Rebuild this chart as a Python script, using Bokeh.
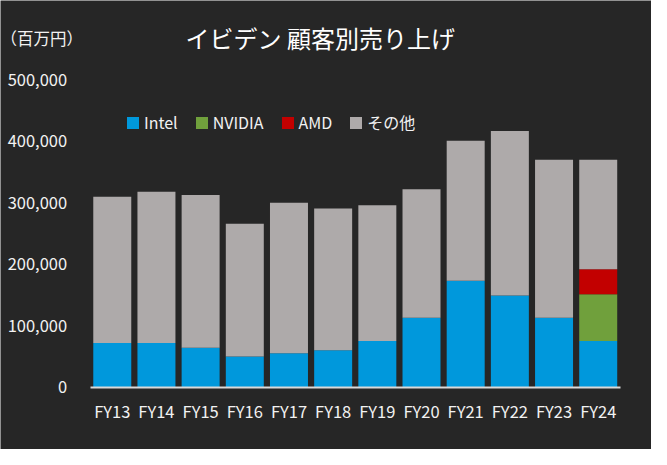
from bokeh.plotting import figure
from bokeh.models import ColumnDataSource, FixedTicker, NumeralTickFormatter, Label, Range1d
from bokeh.embed import file_html
from bokeh.resources import INLINE

years = ["FY13", "FY14", "FY15", "FY16", "FY17", "FY18", "FY19", "FY20", "FY21", "FY22", "FY23", "FY24"]
intel = [72000, 72000, 64000, 50000, 55000, 60000, 75000, 113000, 173000, 149000, 113000, 75000]
nvidia = [0, 0, 0, 0, 0, 0, 0, 0, 0, 0, 0, 76000]
amd = [0, 0, 0, 0, 0, 0, 0, 0, 0, 0, 0, 41000]
other = [238000, 246000, 249000, 216000, 245000, 231000, 221000, 209000, 228000, 268000, 257000, 178000]
series_names = ["Intel", "NVIDIA", "AMD", "その他"]
y_ticks = [0, 100000, 200000, 300000, 400000, 500000]

colors = ["#0098dc", "#70a03c", "#c20000", "#aeaaaa"]
FONT = "Noto Sans CJK JP"
TXT = "#f2f2f2"
BG = "#262626"

pos = list(range(len(years)))
src = ColumnDataSource(dict(pos=pos, year=years, intel=intel, nvidia=nvidia, amd=amd, other=other))

W, H = 651, 449
p = figure(x_range=Range1d(-2.53, 12.206), y_range=Range1d(-101600, 629500), width=W, height=H,
           output_backend="svg", toolbar_location=None,
           min_border_left=0, min_border_right=0, min_border_top=0, min_border_bottom=0)
p.background_fill_color = BG
p.border_fill_color = BG
p.outline_line_color = None
p.xgrid.grid_line_color = None
p.ygrid.grid_line_color = None

p.vbar_stack(["intel", "nvidia", "amd", "other"], x="pos", width=0.86, source=src,
             fill_color=colors, line_color=None, legend_label=series_names)

# x axis (category labels) drawn at value 0
p.xaxis.fixed_location = 0
p.xaxis.bounds = (-0.5, len(years) - 0.5)
p.xaxis.ticker = FixedTicker(ticks=pos)
p.xaxis.major_label_overrides = {i: y for i, y in zip(pos, years)}
p.xaxis.axis_line_color = "#d9d9d9"
p.xaxis.axis_line_width = 2
p.xaxis.major_tick_line_color = None
p.xaxis.minor_tick_line_color = None
p.xaxis.major_tick_out = 0
p.xaxis.major_tick_in = 0
p.xaxis.minor_tick_out = 0
p.xaxis.major_label_text_color = TXT
p.xaxis.major_label_text_font = FONT
p.xaxis.major_label_text_font_size = "16.5px"
p.xaxis.major_label_standoff = 12

# y axis at the left edge of the bar area
p.yaxis.fixed_location = -0.5
p.yaxis.ticker = FixedTicker(ticks=y_ticks)
p.yaxis.formatter = NumeralTickFormatter(format="0,0")
p.yaxis.axis_line_color = None
p.yaxis.major_tick_line_color = None
p.yaxis.minor_tick_line_color = None
p.yaxis.major_tick_out = 0
p.yaxis.major_tick_in = 0
p.yaxis.minor_tick_out = 0
p.yaxis.major_label_text_color = TXT
p.yaxis.major_label_text_font = FONT
p.yaxis.major_label_text_font_size = "16.5px"
p.yaxis.major_label_standoff = 23

# legend
lg = p.legend[0]
lg.orientation = "horizontal"
lg.location = (125, 315)
lg.background_fill_alpha = 0
lg.border_line_alpha = 0
lg.padding = 0
lg.margin = 0
lg.spacing = 16
lg.label_standoff = 4
lg.glyph_width = 15
lg.glyph_height = 15
lg.label_text_font = FONT
lg.label_text_font_size = "16px"
lg.label_text_color = TXT

# title and unit label
p.add_layout(Label(x=185, y=412, x_units="screen", y_units="screen", text="イビデン 顧客別売り上げ",
                   text_align="left", text_baseline="middle", text_color="#ffffff",
                   text_font=FONT, text_font_size="24px"))
p.add_layout(Label(x=0, y=412, x_units="screen", y_units="screen", text="（百万円）",
                   text_align="left", text_baseline="middle", text_color=TXT,
                   text_font=FONT, text_font_size="16.5px"))

open("out.html", "w").write(file_html(p, INLINE))
